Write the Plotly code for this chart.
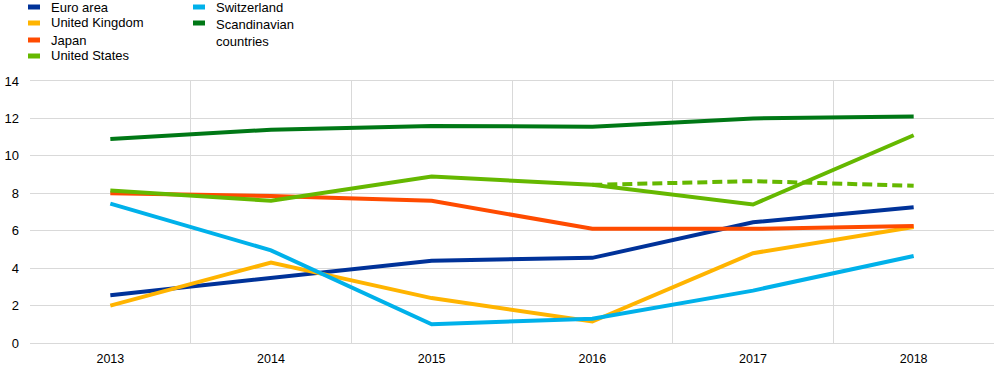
import plotly.graph_objects as go

years = ["2013", "2014", "2015", "2016", "2017", "2018"]
euro_area = [2.55, 3.5, 4.4, 4.55, 6.45, 7.25]
united_kingdom = [2.0, 4.3, 2.4, 1.15, 4.8, 6.2]
japan = [8.0, 7.85, 7.6, 6.1, 6.1, 6.25]
united_states = [8.15, 7.6, 8.9, 8.45, 7.4, 11.1]
us_dashed_years = ["2016", "2017", "2018"]
us_dashed = [8.45, 8.65, 8.4]
switzerland = [7.45, 4.95, 1.0, 1.3, 2.8, 4.65]
scandinavian = [10.9, 11.4, 11.6, 11.55, 12.0, 12.1]
y_ticks = [0, 2, 4, 6, 8, 10, 12, 14]

series = [
    ("Euro area", euro_area, "#003299"),
    ("United Kingdom", united_kingdom, "#FFB400"),
    ("Japan", japan, "#FF4B00"),
    ("United States", united_states, "#65B800"),
    ("Switzerland", switzerland, "#00B1EA"),
    ("Scandinavian<br>countries", scandinavian, "#007816"),
]

fig = go.Figure()
fig.add_trace(go.Scatter(x=us_dashed_years, y=us_dashed, mode="lines",
                         line=dict(color="#65B800", width=4, dash="10px,5px"),
                         showlegend=False, hoverinfo="skip"))
for name, vals, col in series:
    fig.add_trace(go.Scatter(x=years, y=vals, mode="lines", name=name,
                             line=dict(color=col, width=4), showlegend=False))

# manual legend (pixel layout converted to paper coords)
L, R, T, B = 30, 994, 81, 343
W, H = R - L, B - T
def px(x):
    return (x - L) / W
def py(y):
    return (B - y) / H

legend_pos = [
    (28, 49, 7), (28, 49, 23), (28, 49, 40), (28, 49, 56),
    (193, 214, 7), (193, 214, 23),
]
for (name, vals, col), (sx, tx, yy) in zip(series, legend_pos):
    multi = "<br>" in name
    fig.add_shape(type="line", xref="paper", yref="paper",
                  x0=px(sx), x1=px(sx + 12), y0=py(yy), y1=py(yy),
                  line=dict(color=col, width=5))
    fig.add_annotation(xref="paper", yref="paper", x=px(tx),
                       y=py(yy - 8) if multi else py(yy),
                       text=name, showarrow=False, xanchor="left",
                       yanchor="top" if multi else "middle",
                       align="left",
                       font=dict(size=13, color="#000000"))

fig.update_layout(
    width=1005, height=371,
    margin=dict(l=L, r=1005 - R, t=T, b=371 - B, autoexpand=False),
    plot_bgcolor="white", paper_bgcolor="white",
    font=dict(family="Arial, Liberation Sans, sans-serif", size=12, color="#000000"),
    showlegend=False,
)
fig.update_xaxes(type="category", categoryorder="array", categoryarray=years,
                 range=[-0.5, 5.5], tickson="boundaries", automargin=False,
                 showgrid=True, gridcolor="#D9D9D9", gridwidth=1,
                 showline=True, linecolor="#D9D9D9", mirror=True,
                 ticks="", tickfont=dict(size=12.5), zeroline=False,
                 ticklabelstandoff=4)
fig.update_yaxes(range=[0, 14], tickvals=y_ticks, showgrid=True, automargin=False,
                 gridcolor="#D9D9D9", gridwidth=1, zeroline=False,
                 showline=False, ticks="", tickfont=dict(size=13),
                 ticklabelstandoff=10)

fig.write_html("out.html", config={"displayModeBar": False},
               post_script="document.body.style.margin='0';")
